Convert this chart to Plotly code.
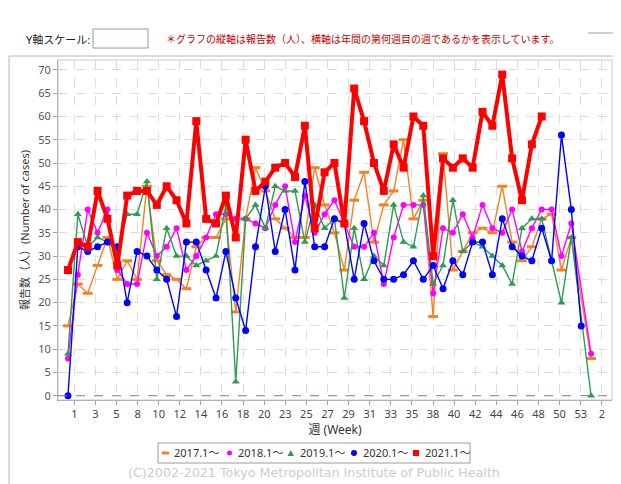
import plotly.graph_objects as go

# The page body has an 8px margin, so the figure is drawn offset by OFF pixels.
OFF = 8
W, H = 621 - OFF, 484 - OFF
ML, MR, MT, MB = 58 - OFF, 9, 60 - OFF, 84

# ---------------- data ----------------
week_labels = ["1", "3", "5", "8", "10", "12", "14", "16", "18", "20", "23", "25", "27",
               "29", "31", "33", "35", "38", "40", "42", "44", "46", "48", "50", "53", "2"]

point_index = list(range(54))

series_names = ["2017.1～", "2018.1～", "2019.1～", "2020.1～", "2021.1～"]

y2017 = [15, 24, 22, 28, 34, 25, 29, 25, 45, 29, 26, 25, 23, 32, 34, 34, 38, 18, 38, 49,
         44, 38, 36, 34, 34, 49, 41, 35, 27, 42, 48, 33, 41, 44, 55, 38, 42, 17, 52, 27,
         31, 35, 36, 35, 45, 33, 29, 32, 38, 39, 27, 34, None, 8]
y2018 = [8, 26, 40, 35, 40, 27, 24, 24, 35, 30, 32, 36, 27, 30, 34, 39, 39, 38, 38, 37,
         36, 41, 45, 33, 43, 35, 39, 42, 37, 32, 32, 35, 24, 34, 41, 41, 41, 22, 36, 35,
         39, 34, 41, 36, 35, 40, 31, 36, 40, 40, 30, 37, None, 9]
y2019 = [9, 39, 32, 34, 33, 31, 39, 39, 46, 25, 36, 30, 30, 28, 29, 30, 41, 3, 38, 41,
         36, 45, 44, 44, 33, 41, 36, 38, 21, 36, 25, 30, 28, 41, 33, 32, 43, 24, 28, 42,
         31, 33, 32, 30, 28, 24, 36, 38, 38, 29, 20, 34, None, 0]
y2020 = [0, 32, 31, 32, 33, 32, 20, 31, 30, 27, 25, 17, 33, 33, 27, 21, 31, 21, 14, 32,
         45, 31, 40, 27, 46, 32, 32, 38, 37, 25, 37, 29, 25, 25, 26, 29, 25, 28, 23, 29,
         26, 33, 33, 26, 38, 32, 30, 29, 36, 29, 56, 40, 15, None]
y2021 = [27, 33, 32, 44, 38, 28, 43, 44, 44, 41, 45, 42, 37, 59, 38, 37, 43, 34, 55, 44,
         46, 49, 50, 47, 58, 36, 48, 50, 37, 66, 59, 50, 44, 54, 49, 60, 58, 30, 51, 49,
         51, 49, 61, 58, 69, 51, 42, 54, 60, None, None, None, None, None]

# ---------------- styles ----------------
ORANGE = "#f5821f"
MAGENTA = "#ff00ff"
GREEN = "#2e9a52"
BLUE = "#0000ff"
RED = "#ff0000"
FONT = "Noto Sans, Noto Sans CJK JP, sans-serif"


def PX(x):
    """page pixel x -> paper x"""
    return (x - OFF - ML) / (W - ML - MR)


def PY(y):
    """page pixel y (from top) -> paper y"""
    return (H - MB - (y - OFF)) / (H - MT - MB)


fig = go.Figure()

styles = [
    (y2017, ORANGE, dict(symbol="line-ew", size=7, line=dict(width=3, color=ORANGE), color=ORANGE), 1.4),
    (y2018, MAGENTA, dict(symbol="circle", size=6, color=MAGENTA), 1.4),
    (y2019, GREEN, dict(symbol="triangle-up", size=7, color=GREEN), 1.4),
    (y2020, BLUE, dict(symbol="circle", size=7, color=BLUE), 1.4),
    (y2021, RED, dict(symbol="square", size=8, color=RED), 4),
]
for (ys, col, mk, lw), name in zip(styles, series_names):
    fig.add_trace(go.Scatter(
        x=point_index, y=ys, name=name, mode="lines+markers",
        line=dict(color=col, width=lw), marker=mk, connectgaps=True,
        showlegend=False, cliponaxis=False,
    ))

tick_pos = [0.638 + 2.138 * k for k in range(len(week_labels))]

fig.update_xaxes(
    range=[-1.01, 55.12], tickmode="array", tickvals=tick_pos, ticktext=week_labels,
    showgrid=True, gridcolor="#dcdcdc", griddash="dash", gridwidth=1,
    showline=True, linecolor="#a0a0a0", ticks="outside", ticklen=4, tickcolor="#a0a0a0",
    tickfont=dict(family=FONT, size=11, color="#444"), zeroline=False,
    title=dict(text="週 (Week)", font=dict(family=FONT, size=12, color="#333"), standoff=2),
)
fig.update_yaxes(
    range=[-0.92, 72.13], tickmode="linear", tick0=0, dtick=5,
    showgrid=True, gridcolor="#dcdcdc", griddash="dash", gridwidth=1,
    showline=True, linecolor="#a0a0a0", ticks="outside", ticklen=4, tickcolor="#a0a0a0",
    tickfont=dict(family=FONT, size=11, color="#555"), zeroline=False,
    title=dict(text="報告数（人）(Number of cases)", font=dict(family=FONT, size=11, color="#333"), standoff=6),
)

shapes = []
# plot area outline
shapes.append(dict(type="rect", xref="paper", yref="paper", x0=0, x1=1, y0=0, y1=1,
                   line=dict(color="#c8c8c8", width=1)))
# zero baseline
shapes.append(dict(type="line", xref="paper", yref="y", x0=0, x1=1, y0=0, y1=0,
                   line=dict(color="#8080b8", width=1, dash="dash")))
# outer panel frame
shapes.append(dict(type="line", xref="paper", yref="paper", x0=PX(9), x1=PX(640), y0=PY(56), y1=PY(56),
                   line=dict(color="#b8b8b8", width=1)))
shapes.append(dict(type="line", xref="paper", yref="paper", x0=PX(9), x1=PX(9), y0=PY(56), y1=PY(500),
                   line=dict(color="#b8b8b8", width=1)))
# top-right short line
shapes.append(dict(type="line", xref="paper", yref="paper", x0=PX(588), x1=PX(640), y0=PY(33), y1=PY(33),
                   line=dict(color="#a0a0a0", width=1)))
# input box
shapes.append(dict(type="rect", xref="paper", yref="paper", x0=PX(93), x1=PX(148), y0=PY(48), y1=PY(29),
                   line=dict(color="#7f9db9", width=1), fillcolor="white"))
# legend box
shapes.append(dict(type="rect", xref="paper", yref="paper", x0=PX(158), x1=PX(470), y0=PY(463), y1=PY(443),
                   line=dict(color="#9a9a9a", width=1), fillcolor="white"))
LY = 453
# legend symbols
shapes.append(dict(type="rect", xref="paper", yref="paper", x0=PX(162), x1=PX(169), y0=PY(454.5), y1=PY(451.5),
                   line=dict(width=0), fillcolor=ORANGE))
shapes.append(dict(type="circle", xref="paper", yref="paper", x0=PX(227), x1=PX(232), y0=PY(455.5), y1=PY(450.5),
                   line=dict(width=0), fillcolor=MAGENTA))
shapes.append(dict(type="path", xref="paper", yref="paper",
                   path=f"M {PX(287.5)},{PY(456)} L {PX(294)},{PY(456)} L {PX(290.75)},{PY(450)} Z",
                   line=dict(width=0), fillcolor=GREEN))
shapes.append(dict(type="circle", xref="paper", yref="paper", x0=PX(351), x1=PX(357), y0=PY(456), y1=PY(450),
                   line=dict(width=0), fillcolor=BLUE))
shapes.append(dict(type="rect", xref="paper", yref="paper", x0=PX(413), x1=PX(419), y0=PY(456), y1=PY(450),
                   line=dict(width=0), fillcolor=RED))

annotations = []
for name, xs in zip(series_names, [172, 236, 298, 361, 423]):
    annotations.append(dict(text=name, xref="paper", yref="paper", x=PX(xs), y=PY(LY),
                            xanchor="left", yanchor="middle", showarrow=False,
                            font=dict(family=FONT, size=11, color="#333")))
annotations.append(dict(text="(C)2002-2021 Tokyo Metropolitan Institute of Public Health",
                        xref="paper", yref="paper", x=PX(314), y=PY(473), xanchor="center", yanchor="middle",
                        showarrow=False, font=dict(family="DejaVu Sans", size=12.7, color="#cccccc")))
annotations.append(dict(text="Y軸スケール:", xref="paper", yref="paper", x=PX(24), y=PY(39),
                        xanchor="left", yanchor="middle", showarrow=False,
                        font=dict(family=FONT, size=11, color="#222")))
annotations.append(dict(text="＊グラフの縦軸は報告数（人）、横軸は年間の第何週目の週であるかを表示しています。",
                        xref="paper", yref="paper", x=PX(164), y=PY(38),
                        xanchor="left", yanchor="middle", showarrow=False,
                        font=dict(family="Noto Sans CJK JP", size=10, color="#c00000")))

fig.update_layout(
    width=W, height=H, margin=dict(l=ML, r=MR, t=MT, b=MB, autoexpand=False),
    paper_bgcolor="white", plot_bgcolor="white", showlegend=False,
    shapes=shapes, annotations=annotations,
    font=dict(family=FONT),
)

fig.write_html("out.html")
